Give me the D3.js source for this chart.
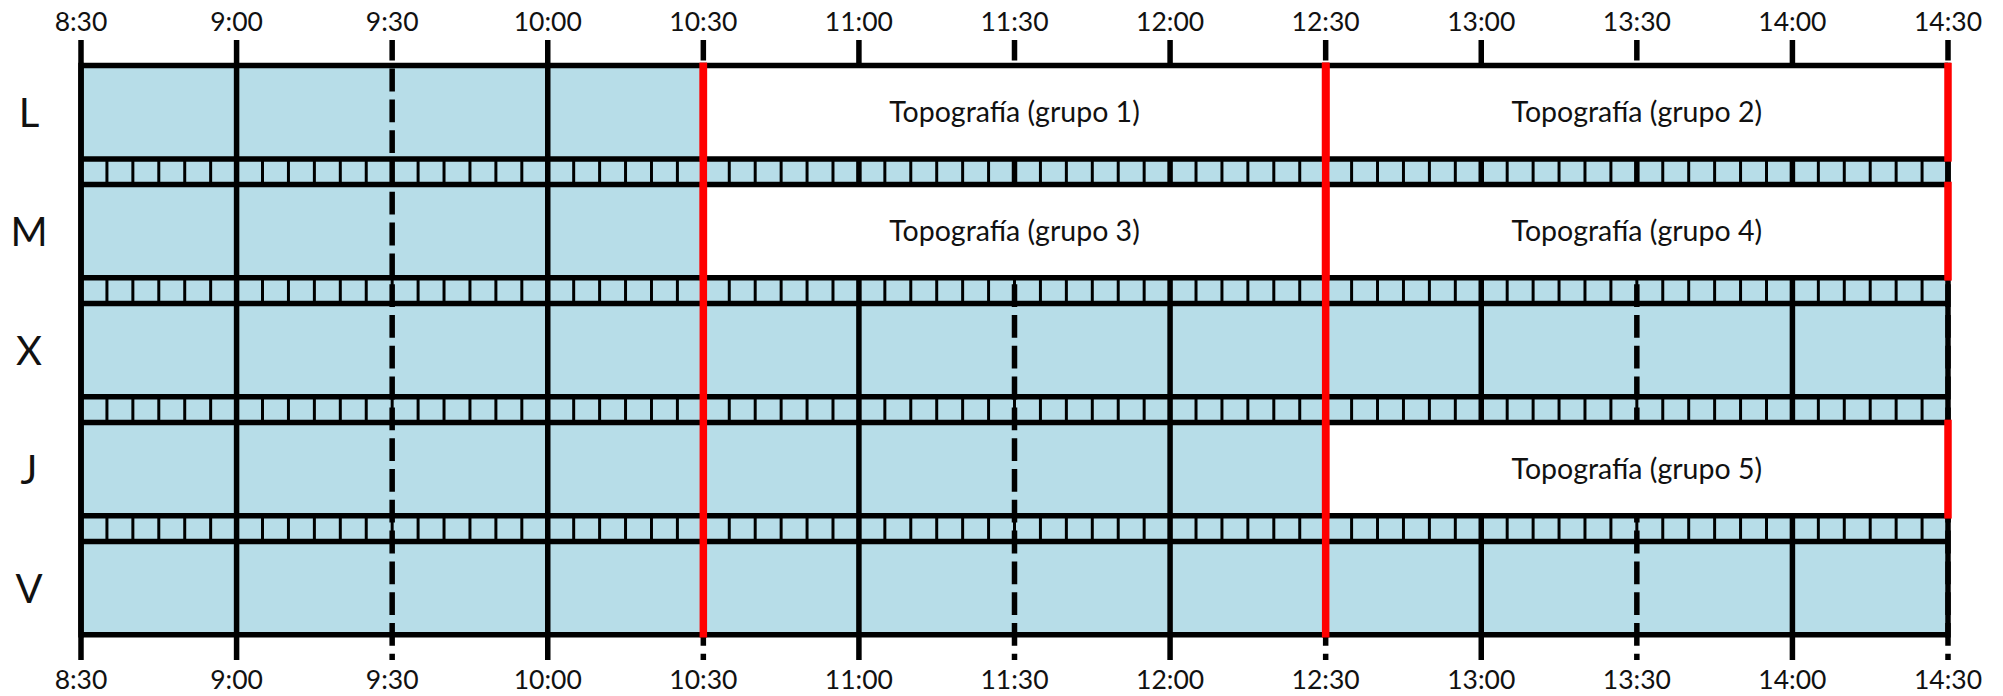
<!DOCTYPE html>
<html>
<head>
<meta charset="utf-8">
<script src="https://cdn.jsdelivr.net/npm/d3@7"></script>
<style>
  body { margin: 0; background: #fff; }
  text { font-family: Lato, "Noto Sans", sans-serif; fill: #111; }
</style>
</head>
<body>
<svg id="chart"></svg>
<script>
// Set dimensions
const width = 2003, height = 696;

// Days (rows) and half-hour tick labels
const days = ["L", "M", "X", "J", "V"];
const timeLabels = ["8:30", "9:00", "9:30", "10:00", "10:30", "11:00", "11:30",
                    "12:00", "12:30", "13:00", "13:30", "14:00", "14:30"];

// Blocks reserved for topography groups
const blockDays   = ["L", "L", "M", "M", "J"];
const blockStarts = ["10:30", "12:30", "10:30", "12:30", "12:30"];
const blockEnds   = ["12:30", "14:30", "12:30", "14:30", "14:30"];
const blockLabels = ["Topografía (grupo 1)", "Topografía (grupo 2)", "Topografía (grupo 3)",
                     "Topografía (grupo 4)", "Topografía (grupo 5)"];

// Full-height red separators
const redLines = ["10:30", "12:30"];

// Small slots shown in the strip between two days (minutes)
const slotMinutes = 5;

const toMin = s => { const [h, m] = s.split(":").map(Number); return h * 60 + m; };

const lineW = 5.5, thinW = 3, redW = 7.5;
const blue = "#b7dde8";

const svg = d3.select("#chart")
    .attr("width", width)
    .attr("height", height);

// Scales
const x = d3.scaleLinear()
    .domain([toMin(timeLabels[0]), toMin(timeLabels[timeLabels.length - 1])])
    .range([81, 1948]);

const y = d3.scaleBand()
    .domain(days)
    .range([65.5, 634.8])
    .paddingInner(0.215)
    .paddingOuter(0);

const bw = y.bandwidth();
const x0 = x.range()[0], x1 = x.range()[1];
const yTop = y(days[0]), yBot = y(days[days.length - 1]) + bw;

// Blue background (rows + strips)
svg.append("rect")
    .attr("x", x0).attr("y", yTop)
    .attr("width", x1 - x0).attr("height", yBot - yTop)
    .attr("fill", blue);

// Slot dividers inside the strips
const slots = d3.range(x.domain()[0] + slotMinutes, x.domain()[1], slotMinutes);
days.slice(0, -1).forEach((d, i) => {
    const sy0 = y(d) + bw, sy1 = y(days[i + 1]);
    svg.append("g").selectAll("line")
        .data(slots)
        .enter()
        .append("line")
        .attr("x1", m => x(m)).attr("x2", m => x(m))
        .attr("y1", sy0).attr("y2", sy1)
        .attr("stroke", "#000")
        .attr("stroke-width", thinW);
});

// Vertical grid lines / ticks every half hour
timeLabels.forEach((label, i) => {
    const m = toMin(label);
    const solid = i === 0 || m % 60 === 0;
    svg.append("line")
        .attr("x1", x(m)).attr("x2", x(m))
        .attr("y1", 40).attr("y2", 660)
        .attr("stroke", "#000")
        .attr("stroke-width", lineW)
        .attr("stroke-dasharray", solid ? null : "22.8 8")
        .attr("stroke-dashoffset", solid ? null : 2.2);
});

// White blocks
const blocks = blockDays.map((d, i) => ({
    day: d, start: toMin(blockStarts[i]), end: toMin(blockEnds[i]), label: blockLabels[i]
}));

svg.append("g").selectAll("rect")
    .data(blocks)
    .enter()
    .append("rect")
    .attr("x", d => x(d.start))
    .attr("y", d => y(d.day))
    .attr("width", d => x(d.end) - x(d.start))
    .attr("height", bw)
    .attr("fill", "#fff");

// Horizontal borders of each row
days.forEach(d => {
    [y(d), y(d) + bw].forEach(yy => {
        svg.append("line")
            .attr("x1", x0).attr("x2", x1)
            .attr("y1", yy).attr("y2", yy)
            .attr("stroke", "#000")
            .attr("stroke-width", lineW);
    });
});

// Left and right borders
[x0, x1].forEach(xx => {
    svg.append("line")
        .attr("x1", xx).attr("x2", xx)
        .attr("y1", yTop - lineW / 2).attr("y2", yBot + lineW / 2)
        .attr("stroke", "#000")
        .attr("stroke-width", lineW);
});

// Red separators (full height)
redLines.forEach(t => {
    svg.append("line")
        .attr("x1", x(toMin(t))).attr("x2", x(toMin(t)))
        .attr("y1", yTop - lineW / 2).attr("y2", yBot + lineW / 2)
        .attr("stroke", "red")
        .attr("stroke-width", redW);
});

// Red edges of each block
blocks.forEach(b => {
    [b.start, b.end].forEach(m => {
        svg.append("line")
            .attr("x1", x(m)).attr("x2", x(m))
            .attr("y1", y(b.day) - lineW / 2).attr("y2", y(b.day) + bw + lineW / 2)
            .attr("stroke", "red")
            .attr("stroke-width", redW);
    });
});

// Block labels
svg.append("g").selectAll("text")
    .data(blocks)
    .enter()
    .append("text")
    .attr("x", d => (x(d.start) + x(d.end)) / 2)
    .attr("y", d => y(d.day) + bw / 2)
    .attr("dy", "0.36em")
    .attr("text-anchor", "middle")
    .attr("font-size", "28.5px")
    .text(d => d.label);

// Time labels top and bottom
[30.7, 689].forEach(ty => {
    svg.append("g").selectAll("text")
        .data(timeLabels)
        .enter()
        .append("text")
        .attr("x", d => x(toMin(d)))
        .attr("y", ty)
        .attr("text-anchor", "middle")
        .attr("font-size", "26.5px")
        .text(d => d);
});

// Day labels
svg.append("g").selectAll("text")
    .data(days)
    .enter()
    .append("text")
    .attr("x", 29)
    .attr("y", d => y(d) + bw / 2)
    .attr("dy", "0.36em")
    .attr("text-anchor", "middle")
    .attr("font-size", "40px")
    .text(d => d);
</script>
</body>
</html>
